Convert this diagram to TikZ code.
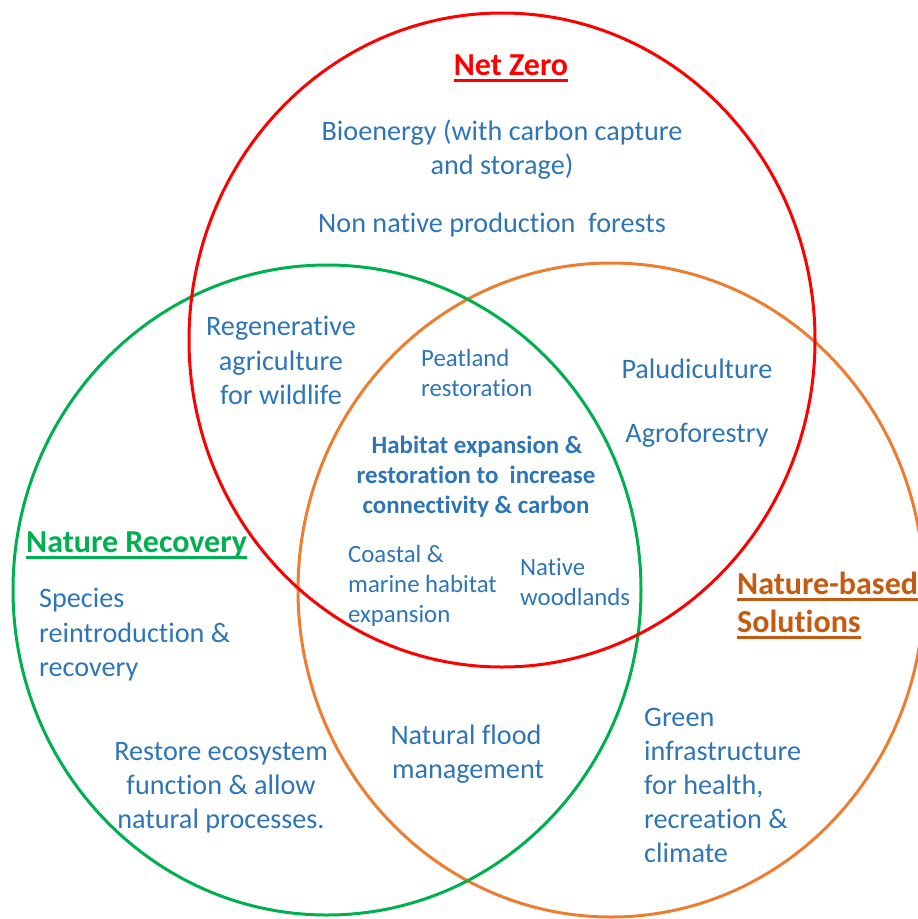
\documentclass[tikz,border=0pt]{standalone}
\usepackage{fontspec}
\setmainfont{Carlito}[Ligatures={NoCommon}]
\definecolor{txtblue}{HTML}{2E75B6}
\definecolor{nzred}{HTML}{FF0000}
\definecolor{nrgreen}{HTML}{00B050}
\definecolor{nbsorange}{HTML}{ED7D31}
\definecolor{nbstitle}{HTML}{C55A11}
\newcommand\ulbox[1]{\setbox0=\hbox{#1}\rlap{\rule[-7pt]{\wd0}{2.6pt}}\box0}
\tikzset{
  ring/.style={line width=3pt},
  body/.style={inner sep=0pt, text=txtblue, font=\fontsize{28.2}{34}\selectfont},
  small/.style={inner sep=0pt, text=txtblue, font=\fontsize{24.8}{30}\selectfont},
  core/.style={inner sep=0pt, text=txtblue, font=\fontsize{24.9}{30}\selectfont\bfseries},
  title/.style={inner sep=0pt, font=\fontsize{32}{39}\selectfont\bfseries}
}
\begin{document}
\begin{tikzpicture}[x=1pt,y=-1pt]
\useasboundingbox (0,0) rectangle (918,919);
% circles
\draw[ring, nbsorange] (611,590) ellipse [x radius=313pt, y radius=327pt];
\draw[ring, nrgreen] (327,590) ellipse [x radius=314pt, y radius=325pt];
\draw[ring, nzred] (502,340) ellipse [x radius=313pt, y radius=327pt];
% titles
\node[title, text=nzred, anchor=base] (tnz) at (511,75) {\ulbox{Net Zero}};
\node[title, text=nrgreen, anchor=base west] (tnr) at (26,552) {\ulbox{Nature Recovery}};
\node[title, text=nbstitle, anchor=base west] (tnb1) at (737,594) {\ulbox{Nature-based}};
\node[title, text=nbstitle, anchor=base west] (tnb2) at (737,632) {\ulbox{Solutions}};
% net zero only
\node[body, anchor=base] (bio1) at (502,140) {Bioenergy (with carbon capture};
\node[body, anchor=base] (bio2) at (502,174) {and storage)};
\node[body, anchor=base west] (nonnat) at (318,232) {Non native production\ \ forests};
% net zero & nature recovery
\node[body, anchor=base] (reg1) at (281,335) {Regenerative};
\node[body, anchor=base] (reg2) at (281,370) {agriculture};
\node[body, anchor=base] (reg3) at (281,404) {for wildlife};
% net zero & nbs
\node[body, anchor=base] (palu) at (697,378) {Paludiculture};
\node[body, anchor=base] (agro) at (697,442) {Agroforestry};
% centre
\node[small, anchor=base west] (peat1) at (421,366) {Peatland};
\node[small, anchor=base west] (peat2) at (421,396) {restoration};
\node[core, anchor=base] (hab1) at (477,453) {Habitat expansion \&};
\node[core, anchor=base] (hab2) at (476,483) {restoration to\ \ increase};
\node[core, anchor=base] (hab3) at (476,513) {connectivity \& carbon};
\node[small, anchor=base west] (coast1) at (348,562) {Coastal \&};
\node[small, anchor=base west] (coast2) at (348,592) {marine habitat};
\node[small, anchor=base west] (coast3) at (348,622) {expansion};
\node[small, anchor=base west] (wood1) at (520,575) {Native};
\node[small, anchor=base west] (wood2) at (520,605) {woodlands};
% nature recovery only
\node[body, anchor=base west] (spec1) at (39,607) {Species};
\node[body, anchor=base west] (spec2) at (39,642) {reintroduction \&};
\node[body, anchor=base west] (spec3) at (39,676) {recovery};
\node[body, anchor=base] (rest1) at (221,760) {Restore ecosystem};
\node[body, anchor=base] (rest2) at (221,794) {function \& allow};
\node[body, anchor=base] (rest3) at (221,828) {natural processes.};
% nature recovery & nbs
\node[body, anchor=base] (flood1) at (466,744) {Natural flood};
\node[body, anchor=base] (flood2) at (468,778) {management};
% nbs only
\node[body, anchor=base west] (gi1) at (644,726) {Green};
\node[body, anchor=base west] (gi2) at (644,760) {infrastructure};
\node[body, anchor=base west] (gi3) at (644,794) {for health,};
\node[body, anchor=base west] (gi4) at (644,828) {recreation \&};
\node[body, anchor=base west] (gi5) at (644,862) {climate};
\end{tikzpicture}
\end{document}
